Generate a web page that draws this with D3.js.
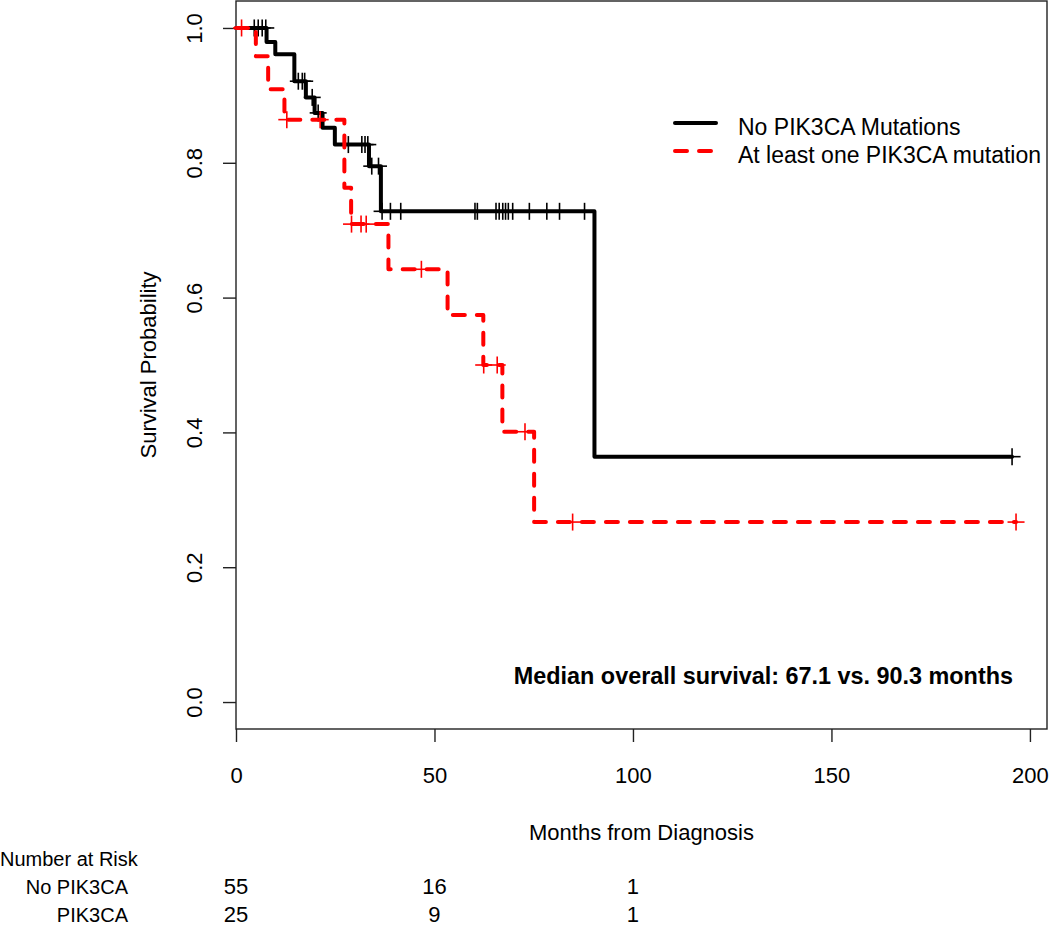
<!DOCTYPE html>
<html>
<head>
<meta charset="utf-8">
<script src="https://cdn.jsdelivr.net/npm/d3@7"></script>
<style>
  body { margin: 0; background: #fff; }
  svg text { font-family: Arial, "Liberation Sans", sans-serif; }
</style>
</head>
<body>
<div id="chart"></div>
<script>
// step curves: time (months) of each step and survival after it
const noMutTimes = [0, 7.7, 9.9, 14.7, 17.6, 19.8, 21.8, 24.9, 33.5, 36.5, 90.3];
const noMutSurv = [1.0, 0.979, 0.961, 0.921, 0.897, 0.874, 0.852, 0.827, 0.795, 0.728, 0.364];
const noMutEnd = 195.5;
const noMutCensor = [4.6, 5.6, 6.6, 7.5, 15.7, 16.7, 17.3, 19.2, 20.7, 28.3, 31.7, 32.5, 33.2,
  34.2, 35.9, 36.8, 38.9, 41.5, 60.2, 60.8, 65.5, 66.3, 67.2, 67.9, 68.6, 69.7, 73.9, 78.3, 81.5, 87.8, 195.5];

const mutTimes = [0, 5.0, 8.1, 12.2, 27.3, 29.0, 38.4, 53.3, 62.3, 67.1, 75.1];
const mutSurv = [1.0, 0.958, 0.909, 0.864, 0.763, 0.709, 0.642, 0.574, 0.500, 0.401, 0.267];
const mutEnd = 196.5;
const mutCensor = [1.4, 12.8, 21.2, 29.1, 31.5, 32.8, 46.7, 62.4, 65.8, 72.8, 84.8, 196.5];

const xTicks = [0, 50, 100, 150, 200];
const yTicks = [0, 0.2, 0.4, 0.6, 0.8, 1.0];

const riskTimes = [0, 50, 100];
const riskNoMut = [55, 16, 1];
const riskMut = [25, 9, 1];

const legendLabels = ["No PIK3CA Mutations", "At least one PIK3CA mutation"];
const medianText = "Median overall survival: 67.1 vs. 90.3 months";

const width = 1050, height = 949;
const box = { left: 236, right: 1047, top: 1, bottom: 729 };

const svg = d3.select("#chart").append("svg")
  .attr("width", width)
  .attr("height", height);

const x = d3.scaleLinear().domain([0, 204.3]).range([box.left, box.right]);
const y = d3.scaleLinear().domain([-0.04, 1.04]).range([box.bottom, box.top]);

// plot frame
svg.append("rect")
  .attr("x", box.left).attr("y", box.top)
  .attr("width", box.right - box.left).attr("height", box.bottom - box.top)
  .attr("fill", "none").attr("stroke", "#222").attr("stroke-width", 1.4);

// y axis
const yAxis = svg.append("g")
  .attr("transform", "translate(" + box.left + ",0)")
  .call(d3.axisLeft(y).tickValues(yTicks).tickSize(13).tickFormat(d3.format(".1f")));
yAxis.select(".domain").remove();
yAxis.selectAll(".tick line").attr("stroke", "#222").attr("stroke-width", 1.4);
yAxis.selectAll(".tick text")
  .attr("x", null).attr("dy", null)
  .attr("text-anchor", "middle")
  .attr("transform", "translate(-34,0) rotate(-90)")
  .attr("font-size", 22).attr("fill", "#000");

// x axis
const xAxis = svg.append("g")
  .attr("transform", "translate(0," + box.bottom + ")")
  .call(d3.axisBottom(x).tickValues(xTicks).tickSize(13));
xAxis.select(".domain").remove();
xAxis.selectAll(".tick line").attr("stroke", "#222").attr("stroke-width", 1.4);
xAxis.selectAll(".tick text")
  .attr("y", 54).attr("dy", null)
  .attr("font-size", 22).attr("fill", "#000");

svg.append("text")
  .attr("x", (box.left + box.right) / 2).attr("y", 840)
  .attr("text-anchor", "middle").attr("font-size", 22)
  .text("Months from Diagnosis");

svg.append("text")
  .attr("transform", "translate(156," + y(0.5) + ") rotate(-90)")
  .attr("text-anchor", "middle").attr("font-size", 22)
  .text("Survival Probability");

// step curves
const stepPoints = (times, surv, end) => {
  let pts = times.map((t, i) => [t, surv[i]]);
  pts.push([end, surv[surv.length - 1]]);
  return pts;
};
const survAt = (times, surv, t) => {
  let s = surv[0];
  times.forEach((tt, i) => { if (tt <= t) s = surv[i]; });
  return s;
};
const line = d3.line()
  .x(d => x(d[0]))
  .y(d => y(d[1]))
  .curve(d3.curveStepAfter);

const curves = [
  { times: noMutTimes, surv: noMutSurv, end: noMutEnd, censor: noMutCensor, color: "#000", dash: null },
  { times: mutTimes, surv: mutSurv, end: mutEnd, censor: mutCensor, color: "#ff0000", dash: "12,12" }
];

curves.forEach(c => {
  svg.append("path")
    .datum(stepPoints(c.times, c.surv, c.end))
    .attr("fill", "none")
    .attr("stroke", c.color)
    .attr("stroke-width", 4)
    .attr("stroke-linecap", "round")
    .attr("stroke-linejoin", "round")
    .attr("stroke-dasharray", c.dash)
    .attr("d", line);

  const marks = svg.append("g")
    .selectAll("g")
    .data(c.censor)
    .join("g")
    .attr("transform", d => "translate(" + x(d) + "," + y(survAt(c.times, c.surv, d)) + ")");
  marks.append("line")
    .attr("x1", -8.5).attr("x2", 8.5).attr("y1", 0).attr("y2", 0)
    .attr("stroke", c.color).attr("stroke-width", 1.6);
  marks.append("line")
    .attr("x1", 0).attr("x2", 0).attr("y1", -8.5).attr("y2", 8.5)
    .attr("stroke", c.color).attr("stroke-width", 1.6);
});

// legend
const legend = svg.append("g");
legendLabels.forEach((lab, i) => {
  const ly = 123 + i * 28;
  legend.append("line")
    .attr("x1", 675).attr("x2", 716).attr("y1", ly).attr("y2", ly)
    .attr("stroke", curves[i].color).attr("stroke-width", 4)
    .attr("stroke-linecap", "round")
    .attr("stroke-dasharray", curves[i].dash);
  legend.append("text")
    .attr("x", 738).attr("y", ly + 12)
    .attr("font-size", 23)
    .text(lab);
});

svg.append("text")
  .attr("x", 1013).attr("y", 684)
  .attr("text-anchor", "end")
  .attr("font-size", 23.4).attr("font-weight", "bold")
  .text(medianText);

// number at risk table
svg.append("text").attr("x", 0).attr("y", 866).attr("font-size", 20).text("Number at Risk");
svg.append("text").attr("x", 128).attr("y", 894).attr("text-anchor", "end").attr("font-size", 20).text("No PIK3CA");
svg.append("text").attr("x", 128).attr("y", 922).attr("text-anchor", "end").attr("font-size", 20).text("PIK3CA");

svg.append("g").selectAll("text")
  .data(riskNoMut)
  .join("text")
  .attr("x", (d, i) => x(riskTimes[i]))
  .attr("y", 894)
  .attr("text-anchor", "middle").attr("font-size", 22)
  .text(d => d);
svg.append("g").selectAll("text")
  .data(riskMut)
  .join("text")
  .attr("x", (d, i) => x(riskTimes[i]))
  .attr("y", 922)
  .attr("text-anchor", "middle").attr("font-size", 22)
  .text(d => d);
</script>
</body>
</html>
